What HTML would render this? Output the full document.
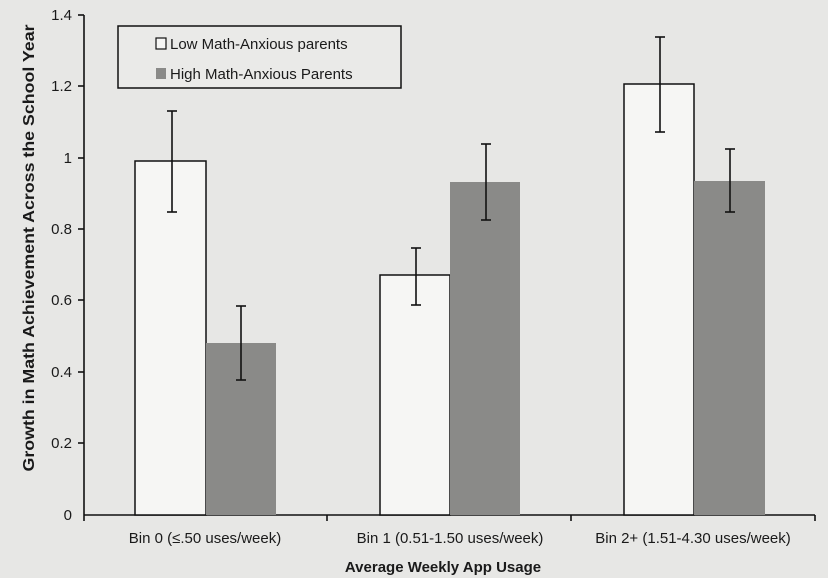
<!DOCTYPE html>
<html><head><meta charset="utf-8"><style>
body{margin:0;background:#e7e7e5;}
svg{display:block}
text{font-family:"Liberation Sans",sans-serif;fill:#1a1a1a}
</style></head><body>
<svg width="828" height="578" viewBox="0 0 828 578">
<rect width="828" height="578" fill="#e7e7e5"/>
<g stroke="#111" stroke-width="1.6" fill="none">
<line x1="84" y1="15" x2="84" y2="515"/>
<line x1="84" y1="515" x2="815" y2="515"/>
<line x1="78" y1="15" x2="84" y2="15"/><line x1="78" y1="86" x2="84" y2="86"/>
<line x1="78" y1="158" x2="84" y2="158"/><line x1="78" y1="229" x2="84" y2="229"/>
<line x1="78" y1="300" x2="84" y2="300"/><line x1="78" y1="372" x2="84" y2="372"/>
<line x1="78" y1="443" x2="84" y2="443"/>
<line x1="84" y1="515" x2="84" y2="521"/><line x1="327" y1="515" x2="327" y2="521"/>
<line x1="571" y1="515" x2="571" y2="521"/><line x1="815" y1="515" x2="815" y2="521"/>
</g>
<g font-size="15" text-anchor="end">
<text x="72" y="20">1.4</text><text x="72" y="91">1.2</text><text x="72" y="163">1</text>
<text x="72" y="234">0.8</text><text x="72" y="305">0.6</text><text x="72" y="377">0.4</text>
<text x="72" y="448">0.2</text><text x="72" y="520">0</text>
</g>
<g stroke="#111" stroke-width="1.5">
<rect x="135" y="161" width="71" height="354" fill="#f6f6f4"/>
<rect x="206" y="343" width="70" height="172" fill="#8a8a88" stroke="none"/>
<rect x="380" y="275" width="70" height="240" fill="#f6f6f4"/>
<rect x="450" y="182" width="70" height="333" fill="#8a8a88" stroke="none"/>
<rect x="624" y="84" width="70" height="431" fill="#f6f6f4"/>
<rect x="694" y="181" width="71" height="334" fill="#8a8a88" stroke="none"/>
</g>
<g stroke="#111" stroke-width="1.6">
<line x1="172" y1="111" x2="172" y2="212"/><line x1="167" y1="111" x2="177" y2="111"/><line x1="167" y1="212" x2="177" y2="212"/>
<line x1="241" y1="306" x2="241" y2="380"/><line x1="236" y1="306" x2="246" y2="306"/><line x1="236" y1="380" x2="246" y2="380"/>
<line x1="416" y1="248" x2="416" y2="305"/><line x1="411" y1="248" x2="421" y2="248"/><line x1="411" y1="305" x2="421" y2="305"/>
<line x1="486" y1="144" x2="486" y2="220"/><line x1="481" y1="144" x2="491" y2="144"/><line x1="481" y1="220" x2="491" y2="220"/>
<line x1="660" y1="37" x2="660" y2="132"/><line x1="655" y1="37" x2="665" y2="37"/><line x1="655" y1="132" x2="665" y2="132"/>
<line x1="730" y1="149" x2="730" y2="212"/><line x1="725" y1="149" x2="735" y2="149"/><line x1="725" y1="212" x2="735" y2="212"/>
</g>
<rect x="118" y="26" width="283" height="62" fill="#eaeae8" stroke="#111" stroke-width="1.5"/>
<rect x="156" y="38" width="10" height="11" fill="#f6f6f4" stroke="#111" stroke-width="1.2"/>
<rect x="156" y="68" width="10" height="11" fill="#8a8a88"/>
<g font-size="15">
<text x="170" y="49">Low Math-Anxious parents</text>
<text x="170" y="79">High Math-Anxious Parents</text>
</g>
<g font-size="15" text-anchor="middle">
<text x="205" y="543">Bin 0 (≤.50 uses/week)</text>
<text x="450" y="543">Bin 1 (0.51-1.50 uses/week)</text>
<text x="693" y="543">Bin 2+ (1.51-4.30 uses/week)</text>
<text x="443" y="572" font-weight="bold" font-size="15">Average Weekly App Usage</text>
<text transform="translate(34,248) rotate(-90)" font-weight="bold" font-size="16" textLength="447" lengthAdjust="spacingAndGlyphs">Growth in Math Achievement Across the School Year</text>
</g>
</svg>
</body></html>
